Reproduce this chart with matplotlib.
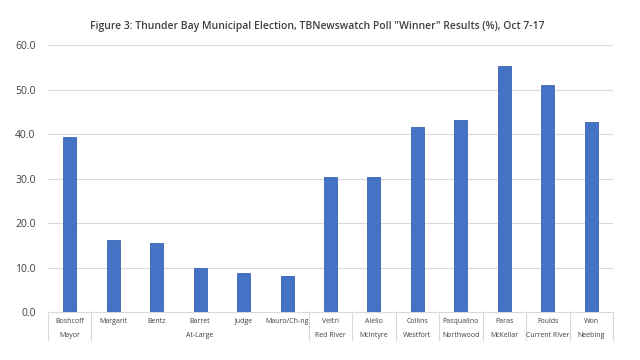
import matplotlib
matplotlib.use("Agg")
import matplotlib.pyplot as plt
import matplotlib.transforms as mtransforms

candidates = ["Boshcoff", "Margarit", "Bentz", "Barret", "Judge", "Mauro/Ch-ng",
              "Veltri", "Aiello", "Collins", "Pasqualino", "Paras", "Foulds", "Won"]
values = [39.3, 16.2, 15.5, 9.9, 8.8, 8.1, 30.3, 30.3, 41.6, 43.2, 55.2, 51.0, 42.6]
groups = ["Mayor", "At-Large", "Red River", "McIntyre", "Westfort", "Northwood",
          "McKellar", "Current River", "Neebing"]
group_sizes = [1, 5, 1, 1, 1, 1, 1, 1, 1]
yticks = [0, 10, 20, 30, 40, 50, 60]
title = 'Figure 3: Thunder Bay Municipal Election, TBNewswatch Poll "Winner" Results (%), Oct 7-17'

plt.rcParams['font.family'] = ['Open Sans', 'DejaVu Sans']
fig = plt.figure(figsize=(6.4, 3.6), dpi=100)
ax = fig.add_axes([0.075, 0.1333, 0.8828, 0.7417])

x = list(range(len(candidates)))
ax.bar(x, values, width=0.3, color="#4472C4", edgecolor="#3A63AE", linewidth=0.6, zorder=3)
ax.set_xlim(-0.5, len(candidates) - 0.5)
ax.set_ylim(0, 60)
ax.set_yticks(yticks)
ax.set_yticklabels([f"{v:.1f}" for v in yticks], fontsize=7.5, color="#404040")
ax.tick_params(axis='y', length=0, pad=9)
ax.tick_params(axis='x', length=0, labelbottom=False)
ax.yaxis.grid(True, color="#D9D9D9", linewidth=0.8, zorder=0)
for s in ["top", "right", "left"]:
    ax.spines[s].set_visible(False)
ax.spines["bottom"].set_color("#D9D9D9")
ax.spines["bottom"].set_linewidth(0.8)

trans = mtransforms.blended_transform_factory(ax.transData, ax.transAxes)
line_bottom = -0.105
for i, name in enumerate(candidates):
    ax.text(i, -0.034, name, transform=trans, ha='center', va='center',
            fontsize=5, color="#404040")
# dividers
bounds = [-0.5]
pos = -0.5
for n in group_sizes:
    pos += n
    bounds.append(pos)
for b in bounds:
    ax.plot([b, b], [0, line_bottom], transform=trans, color="#D9D9D9",
            linewidth=0.8, clip_on=False)
start = -0.5
for g, n in zip(groups, group_sizes):
    ax.text(start + n / 2, -0.088, g, transform=trans, ha='center', va='center',
            fontsize=5, color="#404040")
    start += n

fig.text(0.496, 0.925, title, ha='center', va='center', fontsize=7.5,
         color="#404040", fontweight='semibold')
fig.savefig("out.png", dpi=100)
